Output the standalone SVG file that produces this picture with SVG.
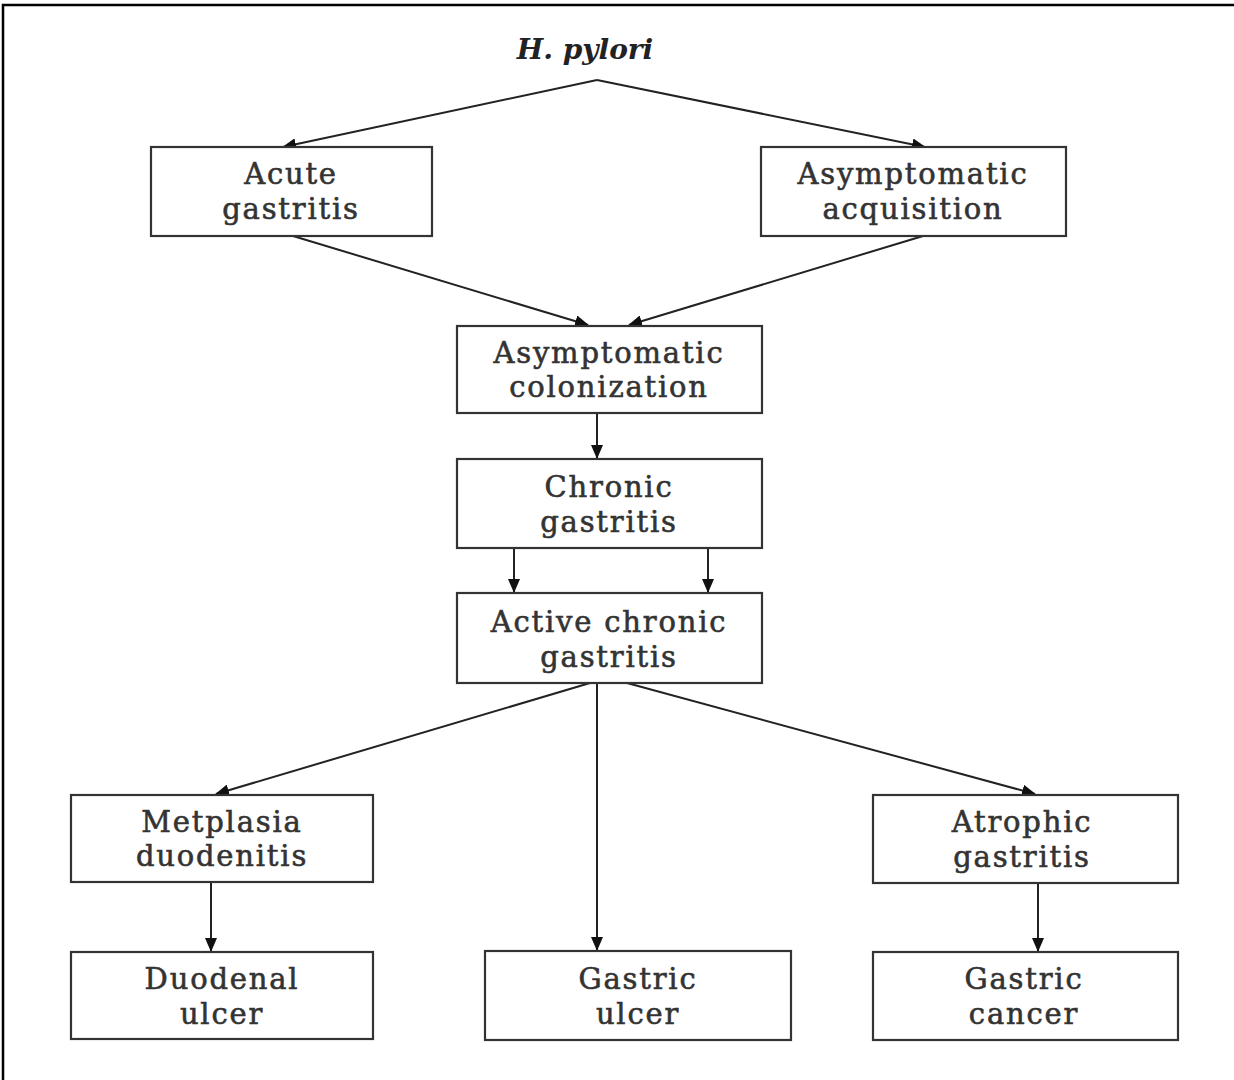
<svg xmlns="http://www.w3.org/2000/svg" width="1234" height="1080" viewBox="0 0 1234 1080">
<style>
.box{fill:#fff;stroke:#333;stroke-width:2.2}
.t{font-family:"DejaVu Serif","Liberation Serif",serif;font-size:29px;letter-spacing:1.8px;fill:#333;stroke:#333;stroke-width:0.6;text-anchor:middle}
.title{font-family:"DejaVu Serif","Liberation Serif",serif;font-size:28px;font-weight:bold;font-style:italic;fill:#222;text-anchor:middle}
.c{stroke:#222;stroke-width:2;fill:none;marker-end:url(#ah)}
</style>
<defs>
<marker id="ah" markerWidth="14" markerHeight="12" refX="13" refY="6" orient="auto" markerUnits="userSpaceOnUse">
<path d="M0,0 L14,6 L0,12 Z" fill="#111"/>
</marker>
</defs>
<rect width="1234" height="1080" fill="#fff"/>
<path d="M3,1080 V5 H1234" fill="none" stroke="#000" stroke-width="2.5"/>
<g id="title"><text class="title" x="585" y="59">H. pylori</text></g>
<g id="connectors">
<path class="c" d="M597,80 L283,147"/>
<path class="c" d="M597,80 L925,147"/>
<path class="c" d="M293,236 L588,325"/>
<path class="c" d="M923,236 L629,325"/>
<path class="c" d="M597,413 L597,458"/>
<path class="c" d="M514,548 L514,592"/>
<path class="c" d="M708,548 L708,592"/>
<path class="c" d="M590,683 L216,794"/>
<path class="c" d="M597,683 L597,950"/>
<path class="c" d="M627,683 L1035,794"/>
<path class="c" d="M211,882 L211,951"/>
<path class="c" d="M1038,883 L1038,951"/>
</g>
<g id="acute"><rect class="box" x="151" y="147" width="281" height="89"/><text class="t" x="291" y="184">Acute</text><text class="t" x="291" y="219">gastritis</text></g>
<g id="acquisition"><rect class="box" x="761" y="147" width="305" height="89"/><text class="t" x="913" y="184">Asymptomatic</text><text class="t" x="913" y="219">acquisition</text></g>
<g id="colonization"><rect class="box" x="457" y="326" width="305" height="87"/><text class="t" x="609" y="363">Asymptomatic</text><text class="t" x="609" y="397">colonization</text></g>
<g id="chronic"><rect class="box" x="457" y="459" width="305" height="89"/><text class="t" x="609" y="497">Chronic</text><text class="t" x="609" y="532">gastritis</text></g>
<g id="active"><rect class="box" x="457" y="593" width="305" height="90"/><text class="t" x="609" y="632">Active chronic</text><text class="t" x="609" y="667">gastritis</text></g>
<g id="metplasia"><rect class="box" x="71" y="795" width="302" height="87"/><text class="t" x="222" y="832">Metplasia</text><text class="t" x="222" y="866">duodenitis</text></g>
<g id="atrophic"><rect class="box" x="873" y="795" width="305" height="88"/><text class="t" x="1022" y="832">Atrophic</text><text class="t" x="1022" y="867">gastritis</text></g>
<g id="duodenal"><rect class="box" x="71" y="952" width="302" height="87"/><text class="t" x="222" y="989">Duodenal</text><text class="t" x="222" y="1024">ulcer</text></g>
<g id="gulcer"><rect class="box" x="485" y="951" width="306" height="89"/><text class="t" x="638" y="989">Gastric</text><text class="t" x="638" y="1024">ulcer</text></g>
<g id="cancer"><rect class="box" x="873" y="952" width="305" height="88"/><text class="t" x="1024" y="989">Gastric</text><text class="t" x="1024" y="1024">cancer</text></g>
</svg>
